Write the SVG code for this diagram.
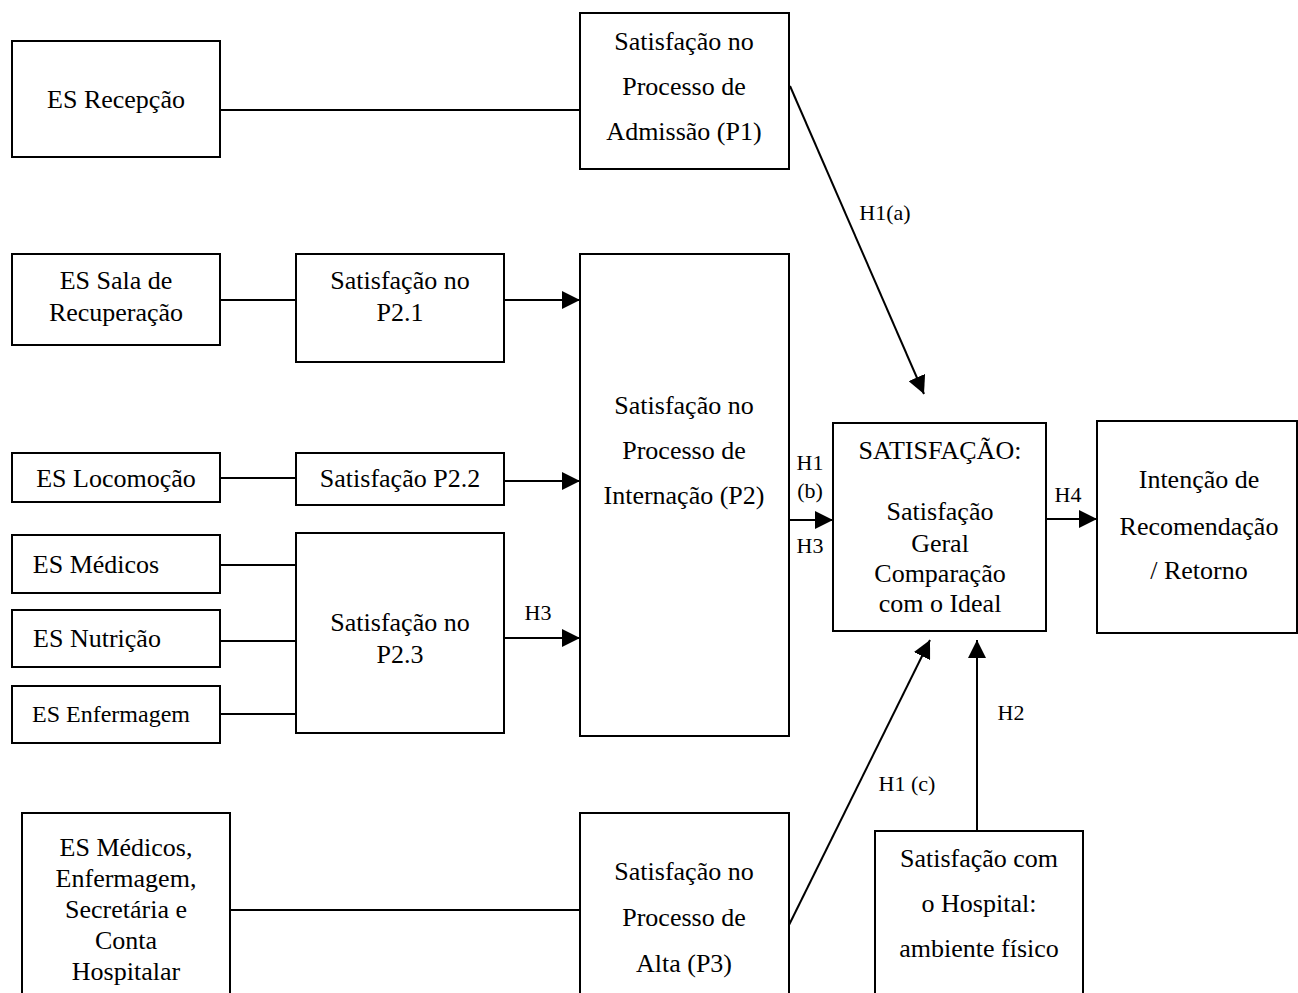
<svg xmlns="http://www.w3.org/2000/svg" width="1298" height="993" viewBox="0 0 1298 993">
<style>
.box{fill:#fff;stroke:#000;stroke-width:2}
.t{font-family:"Liberation Serif","Times New Roman",serif;font-size:26px;fill:#000;text-anchor:middle}
.s{font-size:24px}
.lbl{font-family:"Liberation Serif","Times New Roman",serif;font-size:22px;fill:#000;text-anchor:middle}
.ln{stroke:#000;stroke-width:2;fill:none}
</style>
<defs>
<marker id="arr" markerUnits="userSpaceOnUse" markerWidth="20" markerHeight="18" refX="18" refY="9" orient="auto">
<path d="M0,0 L18,9 L0,18 Z" fill="#000"/>
</marker>
</defs>
<rect width="1298" height="993" fill="#fff"/>
<g id="connectors">
<line class="ln" x1="220" y1="110" x2="580" y2="110"/>
<line class="ln" x1="220" y1="300" x2="296" y2="300"/>
<line class="ln" x1="220" y1="478" x2="296" y2="478"/>
<line class="ln" x1="220" y1="565" x2="296" y2="565"/>
<line class="ln" x1="220" y1="641" x2="296" y2="641"/>
<line class="ln" x1="220" y1="714" x2="296" y2="714"/>
<line class="ln" x1="504" y1="300" x2="580" y2="300" marker-end="url(#arr)"/>
<line class="ln" x1="504" y1="481" x2="580" y2="481" marker-end="url(#arr)"/>
<line class="ln" x1="504" y1="638" x2="580" y2="638" marker-end="url(#arr)"/>
<line class="ln" x1="789" y1="520" x2="833" y2="520" marker-end="url(#arr)"/>
<line class="ln" x1="1046" y1="519" x2="1097" y2="519" marker-end="url(#arr)"/>
<line class="ln" x1="790" y1="86" x2="924" y2="394" marker-end="url(#arr)"/>
<line class="ln" x1="789" y1="925" x2="930" y2="640" marker-end="url(#arr)"/>
<line class="ln" x1="977" y1="831" x2="977" y2="640" marker-end="url(#arr)"/>
<line class="ln" x1="230" y1="910" x2="580" y2="910"/>
<text class="lbl" x="538" y="620">H3</text>
<text class="lbl" x="885" y="220">H1(a)</text>
<text class="lbl" x="810" y="470">H1</text>
<text class="lbl" x="810" y="498">(b)</text>
<text class="lbl" x="810" y="553">H3</text>
<text class="lbl" x="1068" y="502">H4</text>
<text class="lbl" x="907" y="791">H1 (c)</text>
<text class="lbl" x="1011" y="720">H2</text>
</g>
<g id="es-recepcao"><rect class="box" x="12" y="41" width="208" height="116"/><text class="t" x="116" y="108">ES Recepção</text></g>
<g id="p1"><rect class="box" x="580" y="13" width="209" height="156"/>
<text class="t" x="684" y="50">Satisfação no</text><text class="t" x="684" y="95">Processo de</text><text class="t" x="684" y="140">Admissão (P1)</text></g>
<g id="es-sala"><rect class="box" x="12" y="254" width="208" height="91"/>
<text class="t" x="116" y="289">ES Sala de</text><text class="t" x="116" y="321">Recuperação</text></g>
<g id="p21"><rect class="box" x="296" y="254" width="208" height="108"/>
<text class="t" x="400" y="289">Satisfação no</text><text class="t" x="400" y="321">P2.1</text></g>
<g id="p2"><rect class="box" x="580" y="254" width="209" height="482"/>
<text class="t" x="684" y="414">Satisfação no</text><text class="t" x="684" y="459">Processo de</text><text class="t" x="684" y="504">Internação (P2)</text></g>
<g id="es-locomocao"><rect class="box" x="12" y="453" width="208" height="49"/><text class="t" x="116" y="487">ES Locomoção</text></g>
<g id="p22"><rect class="box" x="296" y="453" width="208" height="52"/><text class="t" x="400" y="487">Satisfação P2.2</text></g>
<g id="es-medicos"><rect class="box" x="12" y="535" width="208" height="58"/><text class="t" x="96" y="573">ES Médicos</text></g>
<g id="es-nutricao"><rect class="box" x="12" y="610" width="208" height="57"/><text class="t" x="97" y="647">ES Nutrição</text></g>
<g id="es-enfermagem"><rect class="box" x="12" y="686" width="208" height="57"/><text class="t s" x="111" y="722">ES Enfermagem</text></g>
<g id="p23"><rect class="box" x="296" y="533" width="208" height="200"/>
<text class="t" x="400" y="631">Satisfação no</text><text class="t" x="400" y="663">P2.3</text></g>
<g id="satisfacao"><rect class="box" x="833" y="423" width="213" height="208"/>
<text class="t" x="940" y="459">SATISFAÇÃO:</text><text class="t" x="940" y="520">Satisfação</text><text class="t" x="940" y="552">Geral</text><text class="t" x="940" y="582">Comparação</text><text class="t" x="940" y="612">com o Ideal</text></g>
<g id="intencao"><rect class="box" x="1097" y="421" width="200" height="212"/>
<text class="t" x="1199" y="488">Intenção de</text><text class="t" x="1199" y="535">Recomendação</text><text class="t" x="1199" y="579">/ Retorno</text></g>
<g id="es-alta"><rect class="box" x="22" y="813" width="208" height="200"/>
<text class="t" x="126" y="856">ES Médicos,</text><text class="t" x="126" y="887">Enfermagem,</text><text class="t" x="126" y="918">Secretária e</text><text class="t" x="126" y="949">Conta</text><text class="t" x="126" y="980">Hospitalar</text></g>
<g id="p3"><rect class="box" x="580" y="813" width="209" height="200"/>
<text class="t" x="684" y="880">Satisfação no</text><text class="t" x="684" y="926">Processo de</text><text class="t" x="684" y="972">Alta (P3)</text></g>
<g id="hospital"><rect class="box" x="875" y="831" width="208" height="200"/>
<text class="t" x="979" y="867">Satisfação com</text><text class="t" x="979" y="912">o Hospital:</text><text class="t" x="979" y="957">ambiente físico</text></g>
</svg>
